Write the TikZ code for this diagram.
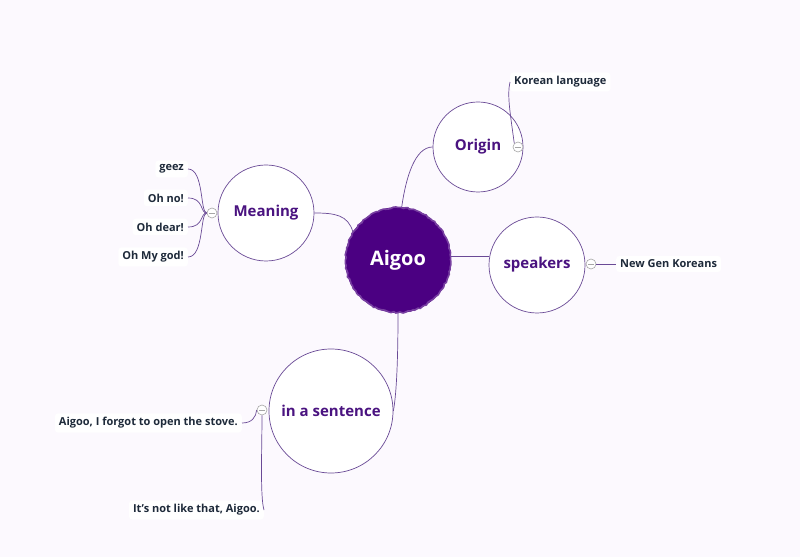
\documentclass[tikz,border=0pt]{standalone}
\usepackage{fontspec}
\setmainfont{Open Sans}
\usetikzlibrary{decorations.pathmorphing}
\definecolor{bgc}{HTML}{FCF9FE}
\definecolor{indig}{HTML}{4B0082}
\definecolor{topictxt}{HTML}{4A1380}
\definecolor{linec}{HTML}{6A4A96}
\definecolor{leaftxt}{HTML}{1E2A3A}
\tikzset{
  topic/.style={circle, draw=linec, line width=0.7pt, fill=white, inner sep=0pt,
    font=\fontsize{15}{18}\selectfont\bfseries, text=topictxt},
  central/.style={circle, fill=indig, inner sep=0pt, minimum size=106pt,
    font=\fontsize{20}{24}\selectfont\bfseries, text=white},
  leaf/.style={fill=white, rounded corners=3pt, inner xsep=4pt, inner ysep=4pt,
    font=\fontsize{11}{13}\selectfont\bfseries, text=leaftxt},
  conn/.style={draw=linec, line width=0.7pt},
  fold/.style={circle, draw=gray!70, fill=white, line width=0.6pt, minimum size=10pt, inner sep=0pt,
    path picture={\draw[gray!70, line width=0.6pt] ([xshift=-3pt]path picture bounding box.center) -- ([xshift=3pt]path picture bounding box.center);}}
}
\begin{document}
\begin{tikzpicture}[x=1pt,y=1pt]
\fill[bgc] (0,0) rectangle (800,557);
\useasboundingbox (0,0) rectangle (800,557);

% topics
\node[central] (aigoo) at (398,297) {Aigoo};
\draw[indig!75!white, line width=1.6pt, decorate, decoration={random steps, segment length=2.5pt, amplitude=0.8pt}] (398,297) circle (52.5pt);
\node[topic, minimum size=96pt] (meaning) at (266,344) {Meaning};
\node[topic, minimum size=90pt] (origin) at (478,410) {Origin};
\node[topic, minimum size=96pt] (speakers) at (537,292) {speakers};
\node[topic, minimum size=124pt] (sentence) at (331,146) {in a sentence};

% fold markers
\node[fold] (mf) at (212,344) {};
\node[fold] (of) at (518,410) {};
\node[fold] (sf) at (591,293) {};
\node[fold] (sef) at (262,147) {};

% leaves
\node[leaf, anchor=east] (geez) at (188,388) {geez};
\node[leaf, anchor=east] (ohno) at (188,359) {Oh no!};
\node[leaf, anchor=east] (ohdear) at (188,330) {Oh dear!};
\node[leaf, anchor=east] (ohmy) at (188,300) {Oh My god!};
\node[leaf, anchor=west] (korean) at (510,475) {Korean language};
\node[leaf, anchor=west] (newgen) at (616,293) {New Gen Koreans};
\node[leaf, anchor=east] (stove) at (242,134) {Aigoo, I forgot to open the stove.};
\node[leaf, anchor=east] (notlike) at (264,47) {It{\char"27}s not like that, Aigoo.};

% main connectors
\draw[conn] (meaning.east) .. controls (335,344) and (348,342) .. (aigoo.148);
\draw[conn] (aigoo.86) .. controls (406,380) and (415,410) .. (origin.west);
\draw[conn] (aigoo.4) -- (speakers.west |- aigoo.4);
\draw[conn] (aigoo.south) .. controls (398,190) and (396,160) .. (sentence.east);

% leaf connectors
\draw[conn] (mf.west) .. controls (200,344) and (204,388) .. (geez.east);
\draw[conn] (mf.west) .. controls (200,344) and (204,359) .. (ohno.east);
\draw[conn] (mf.west) .. controls (200,344) and (204,330) .. (ohdear.east);
\draw[conn] (mf.west) .. controls (200,344) and (204,300) .. (ohmy.east);
\draw[conn] (of.135) .. controls (510,445) and (507,462) .. (korean.west);
\draw[conn] (sf.east) -- (newgen.west);
\draw[conn] (sef.west) .. controls (256,140) and (252,134) .. (stove.east);
\draw[conn] (sef.south) .. controls (262,110) and (260,60) .. (notlike.east);
\end{tikzpicture}
\end{document}
